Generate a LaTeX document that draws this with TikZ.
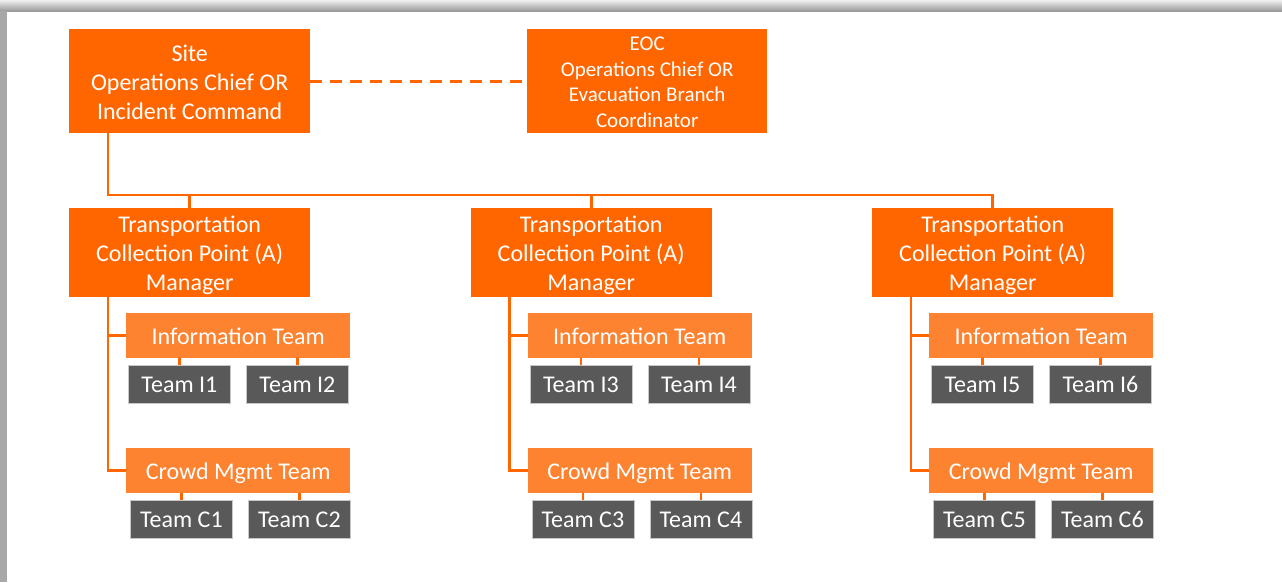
\documentclass[tikz,border=0pt]{standalone}
\usepackage{fontspec}
\setmainfont{Carlito}
\definecolor{dorange}{HTML}{FF6600}
\definecolor{lorange}{HTML}{FD8331}
\definecolor{tgray}{HTML}{595959}
\begin{document}
\begin{tikzpicture}[x=1pt,y=-1pt,
  box/.style={anchor=north west, inner sep=0pt, align=center, text=white,
              font=\fontsize{24}{29}\selectfont, text height=17pt, text depth=0pt},
  mainbox/.style={box, fill=dorange, minimum width=241pt},
  subbox/.style={box, fill=lorange, minimum width=224pt, minimum height=45pt},
  teambox/.style={box, fill=tgray, draw=black!22, line width=0.8pt,
                  minimum width=102pt, minimum height=38pt, text height=16.6pt},
  conn/.style={draw=dorange, line width=2.8pt}]
\useasboundingbox (0,0) rectangle (1282,582);
\fill[white] (0,0) rectangle (1282,582);
% frame
\shade[top color=black!6, bottom color=black!40] (0,0) rectangle (1282,11);
\fill[black!34] (0,11) rectangle (7,582);

% top row
\node[mainbox, minimum height=104pt, text height=76pt] (site) at (69,29)
  {Site\\Operations Chief OR\\Incident Command};
\node[mainbox, minimum width=240pt, minimum height=104pt, text height=92.4pt,
      font=\fontsize{21}{25.5}\selectfont] (eoc) at (527,29)
  {EOC\\Operations Chief OR\\Evacuation Branch\\Coordinator};
\draw[conn, dash pattern=on 12pt off 8pt] (site.east) -- (eoc.west);

\foreach \c/\a/\b in {0/1/2, 1/3/4, 2/5/6}{
  \pgfmathsetmacro\xo{69+\c*401.5}
  \node[mainbox, minimum height=89pt, text height=75pt] (tcp\c) at (\xo,208)
    {Transportation\\Collection Point (A)\\Manager};
  \node[subbox] (info\c) at ({\xo+57},313) {Information Team};
  \node[teambox] (ia\c) at ({\xo+59},365) {Team I\a};
  \node[teambox] (ib\c) at ({\xo+177},365) {Team I\b};
  \node[subbox] (crowd\c) at ({\xo+57},448) {Crowd Mgmt Team};
  \node[teambox] (ca\c) at ({\xo+61},500) {Team C\a};
  \node[teambox] (cb\c) at ({\xo+179},500) {Team C\b};
  % connectors inside the column
  \coordinate (v\c) at ([xshift=39pt]tcp\c.south west);
  \draw[conn] (v\c) |- (crowd\c.west);
  \draw[conn] (v\c |- info\c.west) -- (info\c.west);
  \draw[conn] (ia\c.north) -- (ia\c.north |- info\c.south);
  \draw[conn] (ib\c.north) -- (ib\c.north |- info\c.south);
  \draw[conn] (ca\c.north) -- (ca\c.north |- crowd\c.south);
  \draw[conn] (cb\c.north) -- (cb\c.north |- crowd\c.south);
}

% bus from site to the three managers
\coordinate (bus) at (108,195);
\draw[conn] ([xshift=39pt]site.south west) -- (bus) -| (tcp2.north);
\draw[conn] (bus -| tcp0.north) -- (tcp0.north);
\draw[conn] (bus -| tcp1.north) -- (tcp1.north);
\end{tikzpicture}
\end{document}
